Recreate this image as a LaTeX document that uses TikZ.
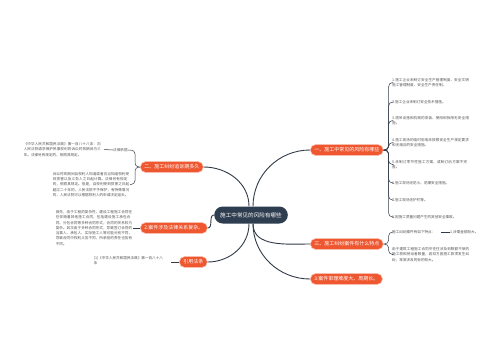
\documentclass[tikz,border=0pt]{standalone}
\usepackage{fontspec}
\newfontfamily\cjk{Noto Sans CJK SC}
\XeTeXlinebreaklocale "zh"
\XeTeXlinebreakskip=0pt plus 0.5pt
\usetikzlibrary{calc}
\definecolor{pillc}{RGB}{238,87,48}
\definecolor{rootc}{RGB}{46,61,79}
\definecolor{linec}{RGB}{50,60,72}
\definecolor{txtc}{RGB}{85,85,85}
\begin{document}
\begin{tikzpicture}[x=1pt,y=-1pt,
  root/.style={fill=rootc, text=white, rounded corners=8.5pt, minimum height=17pt, inner xsep=6pt, inner ysep=0pt, font=\cjk\fontsize{5.6}{6}\selectfont},
  pill/.style={fill=pillc, draw=pillc!40, line width=0.6pt, text=white, rounded corners=5.5pt, minimum height=11pt, inner xsep=4pt, inner ysep=0pt, font=\cjk\fontsize{5}{6}\selectfont},
  leaf/.style={text=txtc, inner sep=0pt, align=left, font=\cjk\fontsize{3.6}{5.3}\selectfont},
  main/.style={draw=linec, line width=0.9pt},
  sub/.style={draw=linec, line width=0.5pt, rounded corners=4pt}]
\fill[white] (0,0) rectangle (500,360);
\useasboundingbox (0,0) rectangle (500,360);

% root
\node[root] (c) at (251,215) {施工中常见的风险有哪些};

% right pills
\node[pill, anchor=west] (p1) at (310,150) {一、施工中常见的风险有哪些};
\node[pill, anchor=west] (p3) at (310,244) {三、施工纠纷案件有什么特点};
\node[pill, anchor=west] (p4) at (310,279) {3.案件审理难度大、周期长。};

% left pills
\node[pill, anchor=west] (l1) at (140,167) {二、施工纠纷追诉期多久};
\node[pill, anchor=west] (l2) at (140,228) {2.案件涉及法律关系复杂。};
\node[pill, anchor=west] (l3) at (179,262) {引用法条};

% main connectors
\draw[main] ($(c.north)+(2,0)$) to[out=90,in=180] (p1.west);
\draw[main] ($(c.south)+(2,0)$) to[out=-90,in=180] (p3.west);
\draw[main] ($(c.south)+(2,0)$) to[out=-90,in=180] (p4.west);
\draw[main] ($(c.north)+(-2,0)$) to[out=90,in=0] (l1.east);
\draw[main] (c.west) to[out=180,in=0] (l2.east);
\draw[main] ($(c.south)+(-2,0)$) to[out=-90,in=0] (l3.east);

% right leaves of p1
\node[leaf, anchor=west, text width=78pt] (r1) at (392,82.5) {1.施工企业未制订安全生产管理制度、安全文明施工管理制度、安全生产责任制。};
\node[leaf, anchor=west, text width=78pt] (r2) at (392,102) {2.施工企业未制订安全技术措施。};
\node[leaf, anchor=west, text width=78pt] (r3) at (392,120.5) {3.塔吊设施和机械的安装、使用和拆除无安全措施。};
\node[leaf, anchor=west, text width=78pt] (r4) at (392,142.5) {4.施工现场的临时用电未按照安全生产规定要求和无相应的安全措施。};
\node[leaf, anchor=west, text width=78pt] (r5) at (392,164.5) {5.未制订季节性施工方案，或制订后方案不完善。};
\node[leaf, anchor=west, text width=78pt] (r6) at (392,183) {6.施工现场无防火、防爆安全措施。};
\node[leaf, anchor=west, text width=78pt] (r7) at (392,200) {7.施工现场无护栏等。};
\node[leaf, anchor=west, text width=78pt] (r8) at (392,217) {8.因施工质量问题产生的其他安全事故。};
\foreach \n in {r1,r2,r3,r4,r5,r6,r7,r8}
  \draw[sub] (p1.east) -- ++(5,0) |- (\n.west);

% right leaves of p3
\node[leaf, anchor=west] (d1) at (392,232) {施工纠纷案件有如下特点：};
\node[leaf, anchor=west] (d1a) at (450,232) {1.涉案金额较大。};
\node[leaf, anchor=west, text width=78pt] (d2) at (392,254.5) {由于建筑工程施工合同中往往涉及到数额不菲的施工款和劳动者数量，若双方因施工款项发生纠纷，常常涉及的标的较大。};
\draw[sub] (p3.east) -- ++(5,0) |- (d1.west);
\draw[sub] (p3.east) -- ++(5,0) |- (d2.west);
\draw[sub] ($(d1.east)+(5,0)$) -- (d1a.west);

% left leaves of l1
\node[leaf, anchor=west] (e1) at (113,150) {法律依据};
\node[leaf, anchor=east, text width=78pt] (e1a) at (102,149.5) {《中华人民共和国民法典》第一百八十八条：向人民法院请求保护民事权利的诉讼时效期间为三年。法律另有规定的，依照其规定。};
\node[leaf, anchor=east, text width=77pt] (e2) at (130,184.5) {诉讼时效期间自权利人知道或者应当知道权利受到损害以及义务人之日起计算。法律另有规定的，依照其规定。但是，自权利受到损害之日起超过二十年的，人民法院不予保护，有特殊情况的，人民法院可以根据权利人的申请决定延长。};
\draw[sub] (l1.west) -- ++(-5,0) |- (e1.east);
\draw[sub] (l1.west) -- ++(-5,0) |- (e2.east);
\draw[sub] (e1.west) -- ($(e1a.east)+(2,0)$);

% left leaf of l2
\node[leaf, anchor=east, text width=77pt] (f1) at (133,228) {首先，由于工程的复杂性，建设工程施工合同往往伴随着其他施工合同，包括建设施工承包合同、分包合同等多种合同形式，合同的关系较为复杂。其次由于多种合同形式，导致签订合同的当事人、承包人、实际施工人等可能分别不同，导致合同中权利义务不同，所承担的责任也各有不同。};
\draw[sub] (l2.west) -- (f1.east);

% left leaf of l3
\node[leaf, anchor=east, text width=74pt] (g1) at (168,260.5) {[1]《中华人民共和国民法典》第一百八十八\\条};
\draw[sub] (l3.west) -- ($(g1.east)+(3,1.5)$);
\end{tikzpicture}
\end{document}
